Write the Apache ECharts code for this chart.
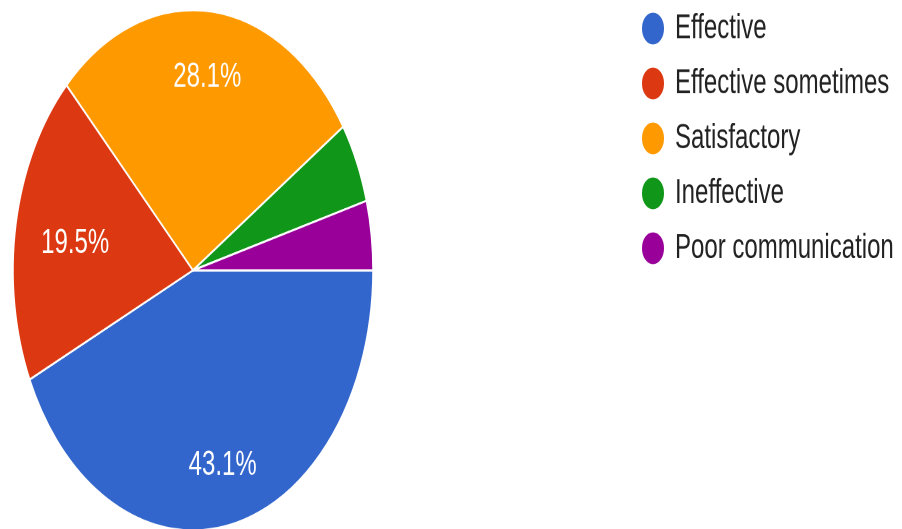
<!DOCTYPE html>
<html>
<head>
<meta charset="utf-8">
<script src="https://cdn.jsdelivr.net/npm/echarts@6/dist/echarts.min.js"></script>
<style>
html,body{margin:0;padding:0;background:#fff;}
#wrap{width:902px;height:529px;overflow:hidden;position:relative;}
#main{width:902px;height:366px;transform:scaleY(1.4454);transform-origin:0 0;}
</style>
</head>
<body>
<div id="wrap"><div id="main"></div></div>
<script>
const categories = ['Effective', 'Effective sometimes', 'Satisfactory', 'Ineffective', 'Poor communication'];
const values = [43.1, 19.5, 28.1, 5.0, 4.3];
const colors = ['#3366cc', '#dc3912', '#ff9900', '#109618', '#990099'];
const showLabel = [true, true, true, false, false];

const chart = echarts.init(document.getElementById('main'), null, {devicePixelRatio: 2});
const FONT = '"Liberation Sans", Arial, sans-serif';

const pieData = categories.map((n, i) => ({name: n, value: values[i], itemStyle: {color: colors[i]}}));
const labelData = categories.map((n, i) => {
  const d = {name: n, value: values[i], label: {show: showLabel[i]}};
  if (n === 'Effective sometimes') d.label.offset = [18, 6];
  if (n === 'Satisfactory') d.label.offset = [0, 3.5];
  return d;
});

chart.setOption({
  animation: false,
  legend: {
    orient: 'vertical',
    left: 640,
    top: 6.7,
    padding: 0,
    icon: 'circle',
    itemWidth: 24,
    itemHeight: 24,
    itemGap: 12,
    data: categories,
    textStyle: {fontFamily: FONT, fontSize: 24, lineHeight: 24, color: '#222', padding: [0, 0, 0, 5]}
  },
  series: [
    {
      type: 'pie',
      center: [193, 187],
      radius: [0, 180],
      startAngle: 0,
      clockwise: true,
      avoidLabelOverlap: false,
      label: {show: false},
      labelLine: {show: false},
      emphasis: {disabled: true},
      itemStyle: {borderColor: '#fff', borderWidth: 1.5},
      data: pieData
    },
    {
      type: 'pie',
      center: [193, 187],
      radius: [90, 180],
      startAngle: 0,
      clockwise: true,
      avoidLabelOverlap: false,
      silent: true,
      legendHoverLink: false,
      itemStyle: {color: 'rgba(0,0,0,0)', borderWidth: 0},
      label: {
        show: true,
        position: 'inside',
        formatter: p => p.value.toFixed(1) + '%',
        color: '#fff',
        fontFamily: FONT,
        fontSize: 24
      },
      labelLine: {show: false},
      emphasis: {disabled: true},
      data: labelData
    }
  ]
});
</script>
</body>
</html>
